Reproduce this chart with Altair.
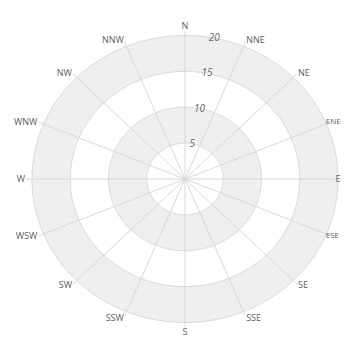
import altair as alt
import pandas as pd

# ---- data ----
directions = ["N", "NNE", "NE", "ENE", "E", "ESE", "SE", "SSE",
              "S", "SSW", "SW", "WSW", "W", "WNW", "NW", "NNW"]
ring_values = [5, 10, 15, 20]
ring_labels = ["5", "10", "15", "20"]
band_order = [20, 15, 10, 5]
band_fill = ["#efefef", "#ffffff", "#efefef", "#ffffff"]

# ---- styling / layout ----
GRID = "#d9d9d9"
W_PX = 334
X_MIN = -23.137
X_DOM = [X_MIN, X_MIN + W_PX / 7.65]
Y_DOM = [-22.299, 23.833]
xs = alt.Scale(domain=X_DOM, nice=False, zero=False)
ys = alt.Scale(domain=Y_DOM, nice=False, zero=False)


def X(f):
    return alt.X(f, type="quantitative", scale=xs, axis=None)


def Y(f):
    return alt.Y(f, type="quantitative", scale=ys, axis=None)


layers = []

# filled bands (drawn from outside in)
for r, fill in zip(band_order, band_fill):
    layers.append(
        alt.Chart(alt.sequence(0, 180.5, 1, as_="t"))
        .transform_calculate(
            x=f"{r}*cos(datum.t*PI/180)",
            y=f"{r}*sin(datum.t*PI/180)",
        )
        .transform_calculate(y2="-datum.y")
        .mark_area(color=fill, opacity=1)
        .encode(x=X("x"), y=Y("y"), y2="y2:Q")
    )

# ring lines
for r in ring_values:
    layers.append(
        alt.Chart(alt.sequence(0, 361, 1, as_="t"))
        .transform_calculate(
            x=f"{r}*sin(datum.t*PI/180)",
            y=f"{r}*cos(datum.t*PI/180)",
        )
        .mark_line(color=GRID, strokeWidth=1)
        .encode(x=X("x"), y=Y("y"), order="t:Q")
    )

dir_df = pd.DataFrame({"dir": directions, "idx": list(range(len(directions)))})
spoke_r = 20.7
spokes = (
    alt.Chart(dir_df)
    .transform_calculate(deg="datum.idx*22.5")
    .transform_calculate(
        x0="0", y0="0",
        x2=f"{spoke_r}*sin(datum.deg*PI/180)",
        y2=f"{spoke_r}*cos(datum.deg*PI/180)",
    )
    .mark_rule(color=GRID, strokeWidth=1)
    .encode(x=X("x0"), y=Y("y0"), x2="x2:Q", y2="y2:Q")
)
layers.append(spokes)

label_r = 20.9
base = (
    alt.Chart(dir_df)
    .transform_calculate(deg="datum.idx*22.5")
    .transform_calculate(
        x=f"{label_r}*sin(datum.deg*PI/180)",
        y=f"{label_r}*cos(datum.deg*PI/180)",
    )
)
tkw = dict(font="Open Sans", fontSize=9, color="#606060")
enc = dict(x=X("x"), y=Y("y"), text="dir:N")
# right side, away from the right edge
layers.append(
    base.transform_filter("datum.deg > 0 && datum.deg < 180 && (datum.deg < 60 || datum.deg > 120)")
    .mark_text(align="left", baseline="middle", **tkw)
    .encode(**enc)
)
# ENE / ESE: nudged in so they stay on the page
layers.append(
    base.transform_filter("datum.deg > 60 && datum.deg < 120 && datum.deg != 90")
    .mark_text(align="left", baseline="middle", dx=-7,
               font="Open Sans", fontSize=8, color="#606060")
    .encode(**enc)
)
# E
layers.append(
    base.transform_filter("datum.deg == 90")
    .mark_text(align="left", baseline="middle", dx=-9.5, **tkw)
    .encode(**enc)
)
layers.append(
    base.transform_filter("datum.deg > 180")
    .mark_text(align="right", baseline="middle", **tkw)
    .encode(**enc)
)
layers.append(
    base.transform_filter("datum.deg == 0")
    .mark_text(align="center", baseline="bottom", dy=2, **tkw)
    .encode(**enc)
)
layers.append(
    base.transform_filter("datum.deg == 180")
    .mark_text(align="center", baseline="top", dy=-1, **tkw)
    .encode(**enc)
)

ring_df = pd.DataFrame({"r": ring_values, "label": ring_labels})
layers.append(
    alt.Chart(ring_df)
    .transform_calculate(
        x="datum.r*sin(11*PI/180)",
        y="datum.r*cos(11*PI/180)",
    )
    .mark_text(font="Open Sans", fontSize=10, fontStyle="italic",
               color="#666666", align="center", baseline="middle")
    .encode(x=X("x"), y=Y("y"), text="label:N")
)

chart = (
    alt.layer(*layers)
    .properties(width=W_PX, height=331, padding=0,
                autosize=alt.AutoSizeParams(type="none"))
    .configure_view(stroke=None)
)

chart.save("out.html", embed_options={"renderer": "svg", "actions": False})
